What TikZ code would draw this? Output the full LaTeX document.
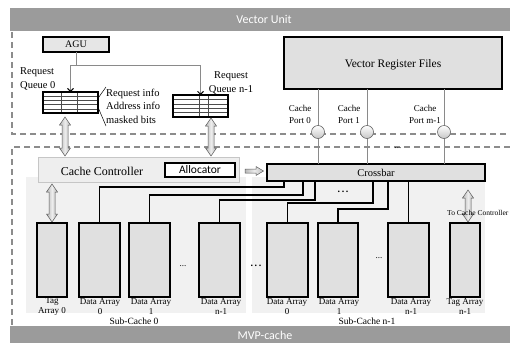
\documentclass[tikz,border=0pt]{standalone}
\usepackage{fontspec}
\setmainfont{Liberation Serif}
\newfontfamily\sansf{Carlito}
\usetikzlibrary{calc,arrows.meta}
\definecolor{boxgray}{HTML}{E0E0E0}
\definecolor{agugray}{HTML}{E6E6E6}
\definecolor{bgc}{HTML}{F1F1F1}
\definecolor{ccfill}{HTML}{EEEEEE}
\definecolor{banner}{HTML}{9B9B9B}
\definecolor{wiregray}{HTML}{8A8A8A}
\definecolor{dashgray}{HTML}{8C8C8C}
\newcommand\vdarr[3]{\draw[barr] (#1-3,#2+8) -- (#1-5.5,#2+8) -- (#1,#2) -- (#1+5.5,#2+8) -- (#1+3,#2+8) -- (#1+3,#3-8) -- (#1+5.5,#3-8) -- (#1,#3) -- (#1-5.5,#3-8) -- (#1-3,#3-8) -- cycle;}
\begin{document}
\begin{tikzpicture}[x=1pt,y=-1pt,
  blk/.style={draw=black, line width=1.3pt, fill=boxgray, inner sep=0pt, outer sep=0pt, anchor=north west},
  qbox/.style={draw=black, line width=1.3pt, fill=white, inner sep=0pt, outer sep=0pt, anchor=north west},
  wire/.style={draw=wiregray, line width=0.8pt},
  cw/.style={draw=black, line width=1.1pt},
  dsh/.style={draw=dashgray, line width=1.2pt, dash pattern=on 6pt off 4pt},
  barr/.style={draw=gray!70!black, line width=0.5pt, left color=gray!55, right color=gray!55, middle color=gray!15},
  port/.style={circle, draw=gray!80!black, line width=0.6pt, top color=white, bottom color=gray!45, minimum size=13pt, inner sep=0pt},
  lbl/.style={font=\fontsize{9}{10}\selectfont, align=center, inner sep=0pt},
  plbl/.style={font=\fontsize{9}{12}\selectfont, align=center, inner sep=0pt},
  txt/.style={font=\fontsize{10.5}{13.5}\selectfont, inner sep=0pt},
  qgrid/.style={draw=gray!60!black, line width=0.5pt}
]
\useasboundingbox (0,0) rectangle (510,343);
% banners
\fill[banner] (10,8) rectangle (510,31);
\node[text=white, font=\sansf\fontsize{12}{12}\selectfont] (vu) at (264,19.5) {Vector Unit};
\fill[banner] (10,326) rectangle (510,343);
\node[text=white, font=\sansf\fontsize{12}{12}\selectfont] (mvp) at (265,335) {MVP-cache};
% dashed region borders
\draw[dsh] (12,32) -- (12,134) -- (510,134);
\draw[dsh] (510,147) -- (12,147) -- (12,325);
% sub-cache backgrounds
\fill[bgc] (26,177) rectangle (246,313);
\fill[bgc] (252,177) rectangle (485,313);
% AGU
\node[blk, fill=agugray, minimum width=66, minimum height=15] (agu) at (43,37) {};
\node[txt, font=\fontsize{10}{12}\selectfont] at (agu.center) {AGU};
% queues
\node[qbox, minimum width=55, minimum height=21] (q0) at (43,92) {};
\node[qbox, minimum width=55, minimum height=22] (qn) at (173,95) {};
\foreach \q/\a/\b in {q0/0.33/0.62, qn/0.47/0.64}{
  \foreach \i in {1,...,4}{
    \draw[qgrid] ($(\q.north west)!\i/5!(\q.south west)$) -- ($(\q.north east)!\i/5!(\q.south east)$);
  }
  \draw[qgrid] ($(\q.north west)!\a!(\q.north east)$) -- ($(\q.south west)!\a!(\q.south east)$);
  \draw[qgrid] ($(\q.north west)!\b!(\q.north east)$) -- ($(\q.south west)!\b!(\q.south east)$);
  \draw[line width=1.3pt] (\q.north west) rectangle (\q.south east);
}
% AGU wires
\coordinate (j) at (76,65);
\draw[wire] (agu.south) -- (agu.south |- j);
\draw[wire] (q0.north |- j) -- (qn.north |- j);
\draw[wire, -{Straight Barb[length=3pt,width=6pt,color=black,line width=0.9pt]}] (q0.north |- j) -- (q0.north);
\draw[wire, -{Straight Barb[length=3pt,width=6pt,color=black,line width=0.9pt]}] (qn.north |- j) -- (qn.north);
% queue labels
\node[txt, align=left, anchor=west] (rq0) at (20,79) {Request\\Queue 0};
\node[txt, align=center] (rqn) at (231,83) {Request\\Queue n-1};
\node[txt, align=left, anchor=west] (rinfo) at (106,106) {Request info\\Address info\\masked bits};
\draw[black, line width=0.5pt] (97.5,99) -- (106,87);
\draw[black, line width=0.5pt] (97.5,106) -- (106,126);
% vector register files
\node[blk, minimum width=218, minimum height=52] (vrf) at (284,37) {};
\node[txt, font=\fontsize{11.5}{13}\selectfont] at (393,65) {Vector Register Files};
% crossbar
\node[blk, minimum width=218, minimum height=17] (xbar) at (267,164) {};
\node[txt, font=\fontsize{10.5}{12}\selectfont] at (xbar.center) {Crossbar};
% ports
\coordinate (pc0) at (318,132);
\coordinate (pc1) at (367,132);
\coordinate (pcm) at (444,132);
\foreach \p in {pc0,pc1,pcm}{
  \draw[wire] (vrf.south -| \p) -- (xbar.north -| \p);
}
\node[port] (p0) at (pc0) {};
\node[port] (p1) at (pc1) {};
\node[port] (pm) at (pcm) {};
\node[plbl] at (300,114) {Cache\\Port 0};
\node[plbl] at (349,114) {Cache\\Port 1};
\node[plbl] at (425,114) {Cache\\Port m-1};
\node[plbl] at (398,148) {...};
% cache controller
\node[draw=gray!45, line width=0.6pt, fill=ccfill, inner sep=0pt, outer sep=0pt, anchor=north west, minimum width=201, minimum height=25] (cc) at (38,157) {};
\node[txt, font=\fontsize{12}{12}\selectfont] at (102,171) {Cache Controller};
\node[qbox, minimum width=70, minimum height=14] (alloc) at (165,163) {};
\node[font=\sansf\fontsize{11.5}{12}\selectfont, inner sep=0pt] at (alloc.center) {Allocator};
% block arrows
\vdarr{65}{117}{156}
\vdarr{211}{118}{156}
\vdarr{52}{184}{222}
\vdarr{468}{190}{222}
\draw[barr] (245,169) -- (256,169) -- (256,166.5) -- (263.5,171) -- (256,175.5) -- (256,173) -- (245,173) -- cycle;
% arrays sub-cache 0
\node[blk, minimum width=30, minimum height=74] (t0) at (37,223) {};
\node[blk, minimum width=41, minimum height=74] (d00) at (79,223) {};
\node[blk, minimum width=41, minimum height=74] (d01) at (129,223) {};
\node[blk, minimum width=41, minimum height=74] (d0n) at (199,223) {};
% arrays sub-cache n-1
\node[blk, minimum width=41, minimum height=74] (d10) at (267,223) {};
\node[blk, minimum width=40, minimum height=74] (d11) at (318,223) {};
\node[blk, minimum width=41, minimum height=74] (d1n) at (388,223) {};
\node[blk, minimum width=30, minimum height=74] (tn) at (450,223) {};
% labels
\node[lbl] at (52,307) {Tag\\Array 0};
\node[lbl] at (100,307) {Data Array\\0};
\node[lbl] at (151,307) {Data Array\\1};
\node[lbl] at (221,307) {Data Array\\n-1};
\node[lbl] at (287,307) {Data Array\\0};
\node[lbl] at (339,307) {Data Array\\1};
\node[lbl] at (411,307) {Data Array\\n-1};
\node[lbl] at (465,307) {Tag Array\\n-1};
\node[txt, font=\fontsize{9.5}{10}\selectfont] at (134,321) {Sub-Cache 0};
\node[txt, font=\fontsize{9.5}{10}\selectfont] at (367,321) {Sub-Cache n-1};
\node[lbl] at (183,266) {...};
\node[lbl] at (379,258) {...};
\node[txt, font=\bfseries\fontsize{10}{10}\selectfont] at (256,266) {.\,.\,.};
\node[txt, font=\bfseries\fontsize{10}{10}\selectfont] at (343,192) {.\,.\,.};
\node[font=\fontsize{7.5}{8}\selectfont, inner sep=0pt, anchor=west] at (447,213) {To Cache Controller};
% crossbar wires
\coordinate (w0) at (284,187);
\coordinate (w1) at (303,195);
\coordinate (w2) at (315,200);
\coordinate (w3) at (373,203);
\coordinate (w4) at (388,209);
\draw[cw] (d00.north) |- (w0) -- (w0 |- xbar.south);
\draw[cw] (d01.north) |- (w1) -- (w1 |- xbar.south);
\draw[cw] (d0n.north) |- (w2) -- (w2 |- xbar.south);
\draw[cw] (d10.north) |- (w3) -- (w3 |- xbar.south);
\draw[cw] (d11.north) |- (w4) -- (w4 |- xbar.south);
\draw[cw] (d1n.north) -- (d1n.north |- xbar.south);
\end{tikzpicture}
\end{document}
